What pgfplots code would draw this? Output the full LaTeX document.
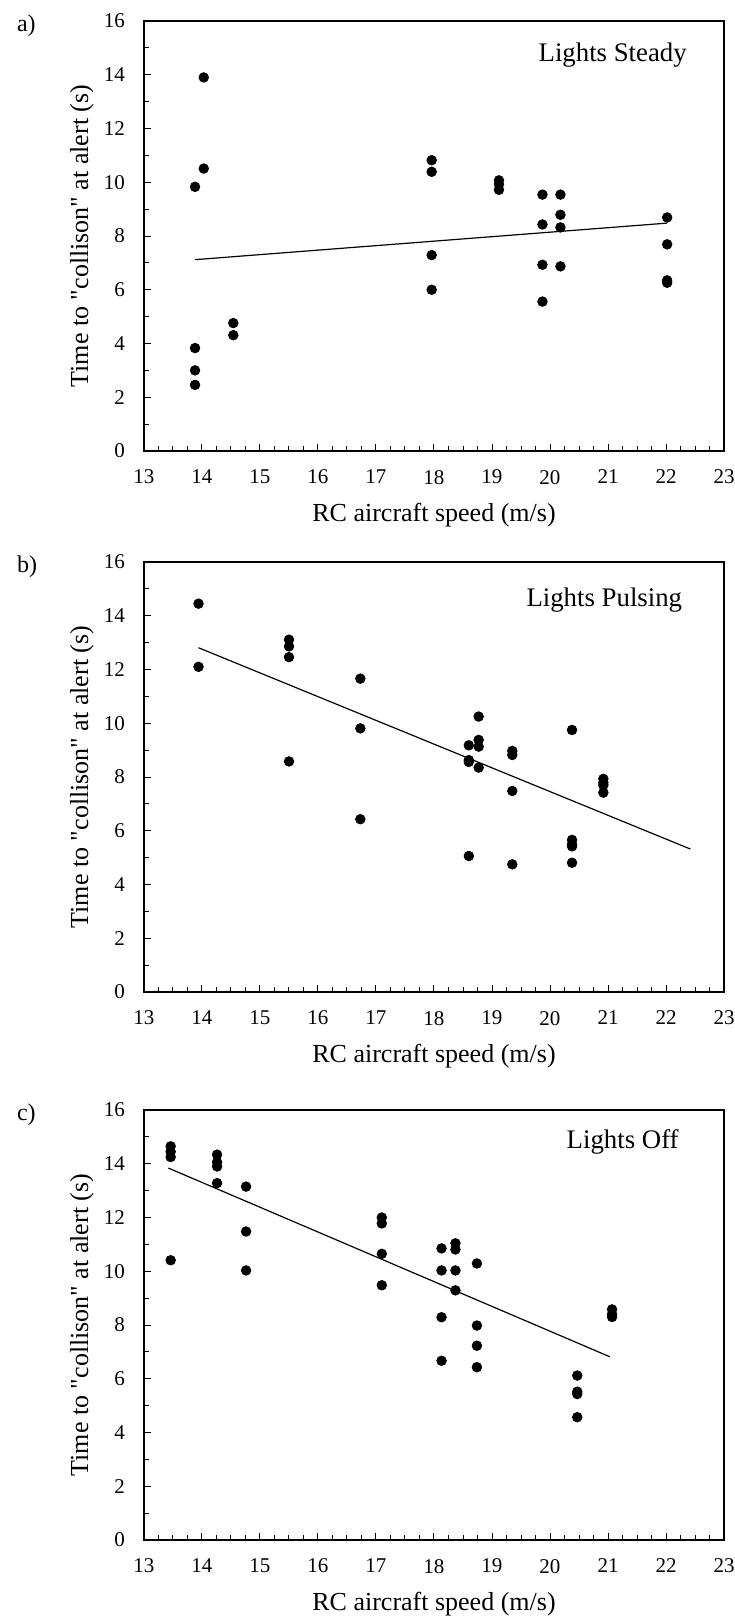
\documentclass[border=0pt]{standalone}
\usepackage{fontspec}
\setmainfont{Liberation Serif}
\usepackage{pgfplots}
\pgfplotsset{compat=1.18}
\pgfplotsset{
  panel/.style={
    width=290pt, height=215pt, scale only axis,
    xmin=13, xmax=23, ymin=0, ymax=16,
    xtick={13,...,23}, ytick={0,2,...,16},
    minor x tick num=3, minor y tick num=1,
    tick align=inside, xtick pos=bottom, ytick pos=left,
    major tick length=3.5pt, minor tick length=2.5pt,
    axis line style={line width=0.7pt},
    every tick/.style={black, line width=0.5pt},
    /pgf/number format/assume math mode=true,
    tick label style={font=\fontsize{10.5}{12}\selectfont},
    x tick label style={yshift=-6pt},
    y tick label style={xshift=-6pt},
    label style={font=\fontsize{13}{15}\selectfont},
    xlabel={RC aircraft speed (m/s)},
    ylabel={Time to \textquotedbl collison\textquotedbl{} at alert (s)},
    xlabel style={at={(axis description cs:0.5,-0.149)}, anchor=center},
    ylabel style={at={(axis description cs:-0.107,0.5)}, anchor=center},
    clip=false,
  },
  dots/.style={only marks, mark=*, mark size=2.4pt, black},
  fit/.style={black, line width=0.6pt, no marks},
}
\newcommand{\lbl}{\fontsize{12}{14}\selectfont}
\newcommand{\ttl}{\fontsize{13.4}{15}\selectfont}
\begin{document}
\begin{tikzpicture}
% a) lights steady
\begin{axis}[panel, at={(0,0)}, anchor=north west]
  \addplot[dots] coordinates {
    (13.88,9.83) (13.88,3.83) (13.88,3.0) (13.88,2.46)
    (14.03,13.90) (14.03,10.51)
    (14.54,4.76) (14.54,4.31)
    (17.96,10.82) (17.96,10.39) (17.96,7.29) (17.96,6.0)
    (19.12,10.07) (19.12,9.92) (19.12,9.72)
    (19.87,9.54) (19.87,8.43) (19.87,6.93) (19.87,5.56)
    (20.18,9.54) (20.18,8.79) (20.18,8.32) (20.18,6.87)
    (22.02,8.69) (22.02,7.69) (22.02,6.35) (22.02,6.26)
  };
  \addplot[fit] coordinates {(13.88,7.12) (22.02,8.48)};
  \node[anchor=west, font=\lbl] at (axis description cs:-0.231,0.99) {a)};
  \node[anchor=east, font=\ttl] at (axis description cs:0.948,0.921) {Lights Steady};
\end{axis}
% b) lights pulsing
\begin{axis}[panel, at={(0,-270.5pt)}, anchor=north west]
  \addplot[dots] coordinates {
    (13.94,14.45) (13.94,12.10)
    (15.50,13.11) (15.50,12.86) (15.50,12.46) (15.50,8.58)
    (16.73,11.66) (16.73,9.81) (16.73,6.43)
    (18.60,9.18) (18.60,8.63) (18.60,8.56) (18.60,5.06)
    (18.77,10.25) (18.77,9.38) (18.77,9.13) (18.77,8.35)
    (19.35,8.97) (19.35,8.82) (19.35,7.48) (19.35,4.75)
    (20.38,9.75) (20.38,5.66) (20.38,5.50) (20.38,5.42) (20.38,4.81)
    (20.92,7.93) (20.92,7.79) (20.92,7.70) (20.92,7.42)
  };
  \addplot[fit] coordinates {(13.94,12.81) (22.42,5.32)};
  \node[anchor=west, font=\lbl] at (axis description cs:-0.231,0.99) {b)};
  \node[anchor=east, font=\ttl] at (axis description cs:0.94,0.912) {Lights Pulsing};
\end{axis}
% c) lights off
\begin{axis}[panel, at={(0,-544.5pt)}, anchor=north west]
  \addplot[dots] coordinates {
    (13.46,14.65) (13.46,14.45) (13.46,14.25) (13.46,10.41)
    (14.26,14.34) (14.26,14.06) (14.26,13.90) (14.26,13.28)
    (14.76,13.15) (14.76,11.48) (14.76,10.03)
    (17.10,12.00) (17.10,11.78) (17.10,10.65) (17.10,9.48)
    (18.13,10.85) (18.13,10.03) (18.13,8.29) (18.13,6.67)
    (18.37,11.04) (18.37,10.81) (18.37,10.03) (18.37,9.29)
    (18.74,10.29) (18.74,7.98) (18.74,7.23) (18.74,6.43)
    (20.47,6.12) (20.47,5.52) (20.47,5.43) (20.47,4.57)
    (21.07,8.58) (21.07,8.40) (21.07,8.30)
  };
  \addplot[fit] coordinates {(13.42,13.84) (21.03,6.82)};
  \node[anchor=west, font=\lbl] at (axis description cs:-0.231,0.99) {c)};
  \node[anchor=east, font=\ttl] at (axis description cs:0.934,0.926) {Lights Off};
\end{axis}
\pgfresetboundingbox
\path (-72pt,10.5pt) rectangle (295pt,-798.5pt);
\end{tikzpicture}
\end{document}
